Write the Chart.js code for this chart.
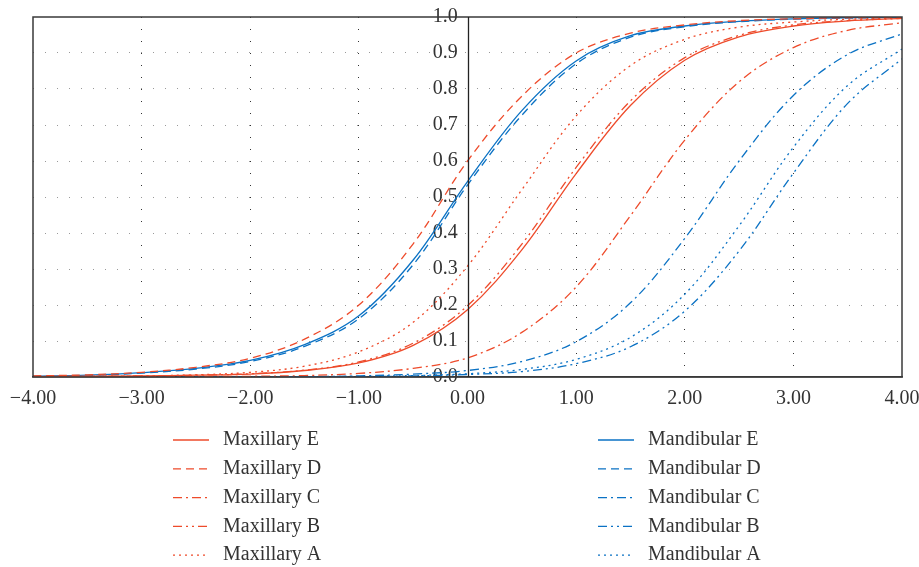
<!DOCTYPE html>
<html>
<head>
<meta charset="utf-8">
<script src="https://cdn.jsdelivr.net/npm/chart.js@4.4.1/dist/chart.umd.min.js"></script>
<style>
  html, body { margin: 0; padding: 0; background: #fff; }
  #wrap { width: 919px; height: 567px; }
</style>
</head>
<body>
<div id="wrap"><canvas id="irtChart"></canvas></div>
<script>
// theta (ability) sampled every 0.5
const theta = [-4, -3.5, -3, -2.5, -2, -1.5, -1, -0.5, 0, 0.5, 1, 1.5, 2, 2.5, 3, 3.5, 4];

// probabilities
const maxillaryE = [0.001, 0.002, 0.003, 0.005, 0.008, 0.018, 0.039, 0.088, 0.187, 0.353, 0.565, 0.754, 0.880, 0.945, 0.975, 0.989, 0.996];
const maxillaryD = [0.003, 0.006, 0.013, 0.027, 0.052, 0.105, 0.200, 0.370, 0.600, 0.780, 0.900, 0.955, 0.978, 0.990, 0.995, 0.998, 0.999];
const maxillaryC = [0.000, 0.000, 0.001, 0.001, 0.002, 0.004, 0.010, 0.024, 0.053, 0.124, 0.250, 0.448, 0.658, 0.820, 0.915, 0.963, 0.984];
const maxillaryB = [0.001, 0.002, 0.003, 0.005, 0.009, 0.019, 0.042, 0.094, 0.198, 0.369, 0.582, 0.767, 0.887, 0.949, 0.978, 0.990, 0.996];
const maxillaryA = [0.001, 0.002, 0.003, 0.006, 0.013, 0.030, 0.070, 0.152, 0.308, 0.520, 0.725, 0.865, 0.938, 0.972, 0.986, 0.994, 0.997];
const mandibularE = [0.002, 0.005, 0.012, 0.024, 0.046, 0.090, 0.170, 0.325, 0.543, 0.740, 0.878, 0.948, 0.975, 0.988, 0.995, 0.998, 0.999];
const mandibularD = [0.002, 0.004, 0.011, 0.022, 0.043, 0.085, 0.162, 0.312, 0.533, 0.727, 0.870, 0.944, 0.973, 0.987, 0.994, 0.997, 0.999];
const mandibularC = [0.000, 0.000, 0.000, 0.000, 0.001, 0.001, 0.003, 0.008, 0.018, 0.043, 0.098, 0.206, 0.385, 0.600, 0.782, 0.896, 0.953];
const mandibularB = [0.000, 0.000, 0.000, 0.000, 0.000, 0.001, 0.001, 0.003, 0.007, 0.015, 0.037, 0.084, 0.183, 0.350, 0.566, 0.760, 0.884];
const mandibularA = [0.000, 0.000, 0.000, 0.000, 0.000, 0.001, 0.002, 0.004, 0.009, 0.021, 0.049, 0.110, 0.230, 0.420, 0.638, 0.810, 0.911];

const seriesNames = ['Maxillary E', 'Maxillary D', 'Maxillary C', 'Maxillary B', 'Maxillary A',
                     'Mandibular E', 'Mandibular D', 'Mandibular C', 'Mandibular B', 'Mandibular A'];
const seriesValues = [maxillaryE, maxillaryD, maxillaryC, maxillaryB, maxillaryA,
                      mandibularE, mandibularD, mandibularC, mandibularB, mandibularA];

const RED = '#ee4b2b';
const BLUE = '#0b72c4';
const TEXT = '#333333';
const FONT = '"Liberation Serif", "DejaVu Serif", serif';

// line styles: solid, dashed, dash-dot, dash-dot-dot, dotted
const dashes = [[], [8, 5], [9, 4, 2, 4], [9, 4, 2, 4, 2, 4], [2, 4]];

const datasets = seriesNames.map((name, i) => ({
    label: name,
    data: theta.map((t, j) => ({ x: t, y: seriesValues[i][j] })),
    borderColor: i < 5 ? RED : BLUE,
    borderWidth: 1.3,
    borderDash: dashes[i % 5],
    pointRadius: 0,
    fill: false,
    tension: 0.35
}));

// рамка, вертикальная ось в нуле и легенда в две колонки
const frameAndLegend = {
    id: 'frameAndLegend',
    afterDraw(chart) {
        const { ctx, chartArea } = chart;
        ctx.save();
        ctx.strokeStyle = '#3a3a3a';
        ctx.lineWidth = 1.5;
        ctx.strokeRect(chartArea.left, chartArea.top,
            chartArea.right - chartArea.left, chartArea.bottom - chartArea.top);

        const x0 = Math.round(chart.scales.x.getPixelForValue(0)) + 0.5;
        ctx.strokeStyle = '#222';
        ctx.lineWidth = 1.3;
        ctx.beginPath();
        ctx.moveTo(x0, chartArea.top);
        ctx.lineTo(x0, chartArea.bottom);
        ctx.stroke();

        const colX = [173, 598];
        const rowY0 = 440;
        const rowStep = 28.8;
        ctx.font = '20px ' + FONT;
        ctx.textBaseline = 'middle';
        ctx.textAlign = 'left';
        chart.data.datasets.forEach((ds, i) => {
            const x = colX[Math.floor(i / 5)];
            const y = rowY0 + (i % 5) * rowStep;
            ctx.beginPath();
            ctx.strokeStyle = ds.borderColor;
            ctx.lineWidth = ds.borderWidth;
            ctx.setLineDash(ds.borderDash);
            ctx.moveTo(x, y);
            ctx.lineTo(x + 36, y);
            ctx.stroke();
            ctx.setLineDash([]);
            ctx.fillStyle = TEXT;
            ctx.fillText(ds.label, x + 50, y);
        });
        ctx.restore();
    }
};

const hideEdges = (ctx, color, edges) =>
    (ctx.tick && edges.includes(ctx.tick.value)) ? 'rgba(0,0,0,0)' : color;

const noPadding = scale => {
    scale.paddingLeft = 0;
    scale.paddingRight = 0;
    scale.paddingTop = 0;
    scale.paddingBottom = 0;
};

new Chart(document.getElementById('irtChart'), {
    type: 'line',
    data: { datasets: datasets },
    options: {
        responsive: true,
        maintainAspectRatio: false,
        animation: false,
        layout: { padding: { left: 33, right: 17, top: 17, bottom: 146 } },
        plugins: {
            legend: { display: false },
            tooltip: { enabled: false }
        },
        scales: {
            x: {
                type: 'linear',
                min: -4,
                max: 4,
                afterFit: noPadding,
                ticks: {
                    stepSize: 1,
                    padding: 10,
                    color: TEXT,
                    font: { family: FONT, size: 20 },
                    callback: v => (v < 0 ? '\u2212' : '') + Math.abs(v).toFixed(2)
                },
                grid: {
                    drawTicks: false,
                    lineWidth: 1,
                    color: ctx => hideEdges(ctx, '#333', [-4, 0, 4])
                },
                border: { display: true, color: '#3a3a3a', width: 1.5, dash: [1, 11] }
            },
            y: {
                type: 'linear',
                // labels sit just left of the x = 0 axis
                position: { x: -0.09 },
                min: 0,
                max: 1,
                afterFit: noPadding,
                ticks: {
                    stepSize: 0.1,
                    color: TEXT,
                    font: { family: FONT, size: 20 },
                    callback: v => v.toFixed(1)
                },
                grid: {
                    drawTicks: false,
                    lineWidth: 1,
                    color: ctx => hideEdges(ctx, '#999', [0, 1])
                },
                border: { display: false, dash: [1, 11] }
            }
        }
    },
    plugins: [frameAndLegend]
});
</script>
</body>
</html>
